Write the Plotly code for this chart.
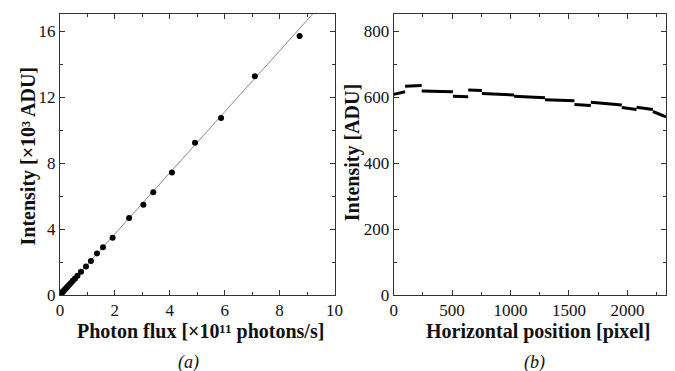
import plotly.graph_objects as go

# Panel (a): intensity vs photon flux
flux = [0.03, 0.05, 0.07, 0.10, 0.14, 0.18, 0.23, 0.28, 0.34, 0.40, 0.47, 0.55,
        0.64, 0.77, 0.95, 1.13, 1.35, 1.57, 1.92, 2.52, 3.04, 3.40, 4.08, 4.92,
        5.87, 7.10, 8.73]
intensity_k = [0.05, 0.08, 0.13, 0.19, 0.26, 0.33, 0.42, 0.51, 0.62, 0.73, 0.86, 1.00,
               1.17, 1.41, 1.72, 2.06, 2.52, 2.89, 3.47, 4.66, 5.47, 6.23, 7.43, 9.22,
               10.73, 13.26, 15.70]
fit_slope = 1.85
fit_x = [0, 10]

# Panel (b): horizontal profile, piecewise segments
seg_start = [0, 98, 240, 507, 638, 755, 1029, 1295, 1547, 1687, 1952, 2078, 2218]
seg_end = [98, 240, 507, 638, 755, 1029, 1295, 1547, 1687, 1952, 2078, 2218, 2330]
seg_y0 = [609, 634, 619, 603, 622, 612, 603, 593, 578, 585, 569, 570, 557]
seg_y1 = [617, 636, 617, 602, 621, 607, 599, 590, 575, 577, 563, 563, 541]

FONT = "Liberation Serif"
TXT = "#111111"
W, H = 675, 371
TOP, BOT = 14, 295

fig = go.Figure()

fig.add_trace(go.Scatter(x=fit_x, y=[fit_slope * v for v in fit_x], mode="lines",
                         line=dict(color="#8a8a8a", width=1), xaxis="x", yaxis="y",
                         showlegend=False))
fig.add_trace(go.Scatter(x=flux, y=intensity_k, mode="markers",
                         marker=dict(color="black", size=6), xaxis="x", yaxis="y",
                         showlegend=False))

px, py = [], []
for s, e, a, b in zip(seg_start, seg_end, seg_y0, seg_y1):
    px += [s, e, None]
    py += [a, b, None]
fig.add_trace(go.Scatter(x=px, y=py, mode="lines", line=dict(color="black", width=3),
                         xaxis="x2", yaxis="y2", showlegend=False, connectgaps=False))

axcommon = dict(showline=True, linecolor="#333333", linewidth=1, mirror="allticks",
                ticks="inside", ticklen=5, tickcolor="#333333", showgrid=False,
                zeroline=False, tickfont=dict(family=FONT, size=17, color=TXT))
minor = dict(ticks="inside", ticklen=3, tickcolor="#333333", showgrid=False)

fig.update_layout(
    width=W, height=H, plot_bgcolor="white", paper_bgcolor="white",
    margin=dict(l=0, r=0, t=TOP, b=H - BOT),
    font=dict(family=FONT, color=TXT),
    xaxis=dict(domain=[57 / W, 337 / W], range=[0, 10], dtick=2, anchor="y",
               minor=dict(dtick=1, **minor), **axcommon),
    yaxis=dict(domain=[0, 1], range=[0, 17.03], dtick=4, anchor="x",
               minor=dict(dtick=2, **minor), **axcommon),
    xaxis2=dict(domain=[397.3 / W, 1.0], range=[0, 2330], dtick=500, anchor="y2",
                minor=dict(dtick=250, **minor), **axcommon),
    yaxis2=dict(domain=[0, 1], range=[0, 853], dtick=200, anchor="x2",
                minor=dict(dtick=100, **minor), **axcommon),
)

annos = [
    ("<b>Photon flux [×10¹¹ photons/s]</b>", 200, 331, 20, 0),
    ("<b>Intensity [×10³ ADU]</b>", 25, 156, 20, -90),
    ("<b>Horizontal position [pixel]</b>", 544, 331, 20, 0),
    ("<b>Intensity [ADU]</b>", 355, 153, 20, -90),
    ("<i>(a)</i>", 188, 362, 18, 0),
    ("<i>(b)</i>", 541, 362, 18, 0),
]
for text, xpix, ypix, size, angle in annos:
    fig.add_annotation(text=text, xref="paper", yref="paper",
                       x=xpix / W, y=(BOT - ypix) / (BOT - TOP),
                       xanchor="center", yanchor="middle",
                       showarrow=False, textangle=angle,
                       font=dict(family=FONT, size=size, color=TXT))

fig.write_html("out.html", config={"displayModeBar": False},
               post_script="document.body.style.margin='0';document.body.style.overflow='hidden';")
